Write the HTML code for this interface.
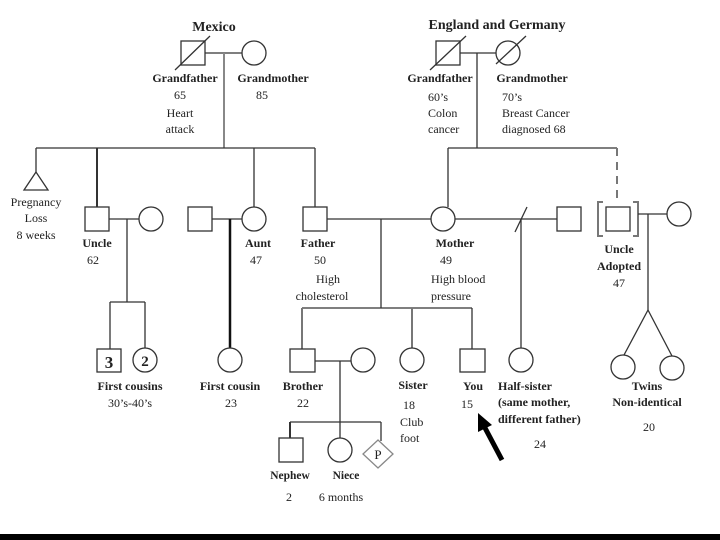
<!DOCTYPE html>
<html><head><meta charset="utf-8"><style>
html,body{margin:0;padding:0;background:#fff;width:720px;height:540px;overflow:hidden}
svg{display:block}
text{font-family:"Liberation Serif",serif;font-size:12px;fill:#222}
.b{font-weight:bold}
.t{font-weight:bold;font-size:14px}
</style></head><body>
<svg width="720" height="540" viewBox="0 0 720 540" xmlns="http://www.w3.org/2000/svg">
<g stroke="#333" stroke-width="1.3" fill="none">
<rect x="181" y="41" width="24" height="24"/>
<line x1="175" y1="70" x2="210" y2="36"/>
<line x1="205" y1="53" x2="242" y2="53"/>
<circle cx="254" cy="53" r="12"/>
<line x1="224" y1="53" x2="224" y2="148" stroke="#888" stroke-width="2"/>
<line x1="36" y1="148" x2="315" y2="148"/>
<line x1="36" y1="148" x2="36" y2="172"/>
<polygon points="36,172 24,190 48,190"/>
<line x1="97" y1="148" x2="97" y2="207" stroke-width="2"/>
<line x1="254" y1="148" x2="254" y2="207"/>
<line x1="315" y1="148" x2="315" y2="207"/>
<rect x="85" y="207" width="24" height="24"/>
<line x1="109" y1="219" x2="139" y2="219"/>
<circle cx="151" cy="219" r="12"/>
<line x1="127" y1="219" x2="127" y2="302"/>
<line x1="110" y1="302" x2="145" y2="302"/>
<line x1="110" y1="302" x2="110" y2="349"/>
<line x1="145" y1="302" x2="145" y2="348"/>
<rect x="97" y="349" width="24" height="23"/>
<circle cx="145" cy="360" r="12"/>
<rect x="188" y="207" width="24" height="24"/>
<line x1="212" y1="219" x2="242" y2="219"/>
<circle cx="254" cy="219" r="12"/>
<line x1="230" y1="219" x2="230" y2="348" stroke="#111" stroke-width="2.5"/>
<circle cx="230" cy="360" r="12"/>
<rect x="303" y="207" width="24" height="24"/>
<line x1="327" y1="219" x2="431" y2="219"/>
<circle cx="443" cy="219" r="12"/>
<line x1="455" y1="219" x2="557" y2="219"/>
<line x1="515" y1="232" x2="527" y2="207"/>
<rect x="557" y="207" width="24" height="24"/>
<line x1="381" y1="219" x2="381" y2="308"/>
<line x1="302" y1="308" x2="472" y2="308"/>
<line x1="302" y1="308" x2="302" y2="349" stroke="#777" stroke-width="2"/>
<line x1="412" y1="308" x2="412" y2="348" stroke="#777" stroke-width="2"/>
<line x1="472" y1="308" x2="472" y2="349"/>
<line x1="521" y1="219" x2="521" y2="348"/>
<rect x="290" y="349" width="25" height="23"/>
<line x1="315" y1="361" x2="351" y2="361"/>
<circle cx="363" cy="360" r="12"/>
<circle cx="412" cy="360" r="12"/>
<rect x="460" y="349" width="25" height="23"/>
<circle cx="521" cy="360" r="12"/>
<line x1="340" y1="361" x2="340" y2="438"/>
<line x1="290" y1="422" x2="381" y2="422"/>
<line x1="290" y1="422" x2="290" y2="438" stroke-width="2"/>
<line x1="381" y1="422" x2="381" y2="441"/>
<rect x="279" y="438" width="24" height="24"/>
<circle cx="340" cy="450" r="12"/>
<polygon points="378,440 393,454 378,468 363,454" stroke="#888"/>
<rect x="436" y="41" width="24" height="24"/>
<line x1="430" y1="70" x2="466" y2="36"/>
<line x1="460" y1="53" x2="496" y2="53"/>
<circle cx="508" cy="53" r="12"/>
<line x1="496" y1="64" x2="526" y2="36"/>
<line x1="477" y1="53" x2="477" y2="148"/>
<line x1="448" y1="148" x2="617" y2="148"/>
<line x1="448" y1="148" x2="448" y2="207"/>
<line x1="617" y1="148" x2="617" y2="202" stroke="#777" stroke-width="2" stroke-dasharray="8,6"/>
<rect x="606" y="207" width="24" height="24"/>
<polyline points="603,202 598,202 598,236 603,236" stroke="#777" stroke-width="2"/>
<polyline points="633,202 638,202 638,236 633,236" stroke="#777" stroke-width="2"/>
<line x1="638" y1="214" x2="667" y2="214"/>
<circle cx="679" cy="214" r="12"/>
<line x1="648" y1="214" x2="648" y2="310"/>
<line x1="648" y1="310" x2="624" y2="355"/>
<line x1="648" y1="310" x2="672" y2="356"/>
<circle cx="623" cy="367" r="12"/>
<circle cx="672" cy="368" r="12"/>
</g>
<line x1="502" y1="460" x2="484" y2="426" stroke="#000" stroke-width="5"/>
<polygon points="478,413 478,432 492,425" fill="#000"/>
<rect x="0" y="534" width="720" height="6" fill="#000"/>
<g text-anchor="middle">
<text x="214" y="31" class="t">Mexico</text>
<text x="497" y="29" class="t">England and Germany</text>
<text x="185" y="82" class="b">Grandfather</text>
<text x="273" y="82" class="b">Grandmother</text>
<text x="180" y="99">65</text>
<text x="262" y="99">85</text>
<text x="180" y="117">Heart</text>
<text x="180" y="133">attack</text>
<text x="440" y="82" class="b">Grandfather</text>
<text x="532" y="82" class="b">Grandmother</text>
<text x="36" y="206">Pregnancy</text>
<text x="36" y="222">Loss</text>
<text x="36" y="239">8 weeks</text>
<text x="97" y="247" class="b">Uncle</text>
<text x="93" y="264">62</text>
<text x="258" y="247" class="b">Aunt</text>
<text x="256" y="264">47</text>
<text x="318" y="247" class="b">Father</text>
<text x="320" y="264">50</text>
<text x="328" y="283">High</text>
<text x="322" y="300">cholesterol</text>
<text x="455" y="247" class="b">Mother</text>
<text x="446" y="264">49</text>
<text x="619" y="253" class="b">Uncle</text>
<text x="619" y="270" class="b">Adopted</text>
<text x="619" y="287">47</text>
<text x="130" y="390" class="b">First cousins</text>
<text x="130" y="407">30’s-40’s</text>
<text x="230" y="390" class="b">First cousin</text>
<text x="231" y="407">23</text>
<text x="303" y="390" class="b">Brother</text>
<text x="303" y="407">22</text>
<text x="413" y="389" class="b">Sister</text>
<text x="473" y="390" class="b">You</text>
<text x="290" y="479" class="b" style="font-size:11.5px">Nephew</text>
<text x="346" y="479" class="b" style="font-size:11.5px">Niece</text>
<text x="289" y="501">2</text>
<text x="341" y="501">6 months</text>
<text x="647" y="390" class="b">Twins</text>
<text x="647" y="406" class="b">Non-identical</text>
<text x="649" y="431">20</text>
<text x="540" y="448">24</text>
<text x="109" y="368" class="b" style="font-size:17px">3</text>
<text x="145" y="366" class="b" style="font-size:15px">2</text>
<text x="378" y="459" style="font-size:13px">P</text>
</g>
<g>
<text x="428" y="101">60’s</text>
<text x="428" y="117">Colon</text>
<text x="428" y="133">cancer</text>
<text x="502" y="101">70’s</text>
<text x="502" y="117">Breast Cancer</text>
<text x="502" y="133">diagnosed 68</text>
<text x="431" y="283">High blood</text>
<text x="431" y="300">pressure</text>
<text x="403" y="409">18</text>
<text x="400" y="426">Club</text>
<text x="400" y="442">foot</text>
<text x="461" y="408">15</text>
<text x="498" y="390" class="b">Half-sister</text>
<text x="498" y="406" class="b">(same mother,</text>
<text x="498" y="423" class="b">different father)</text>
</g>
</svg>
</body></html>
